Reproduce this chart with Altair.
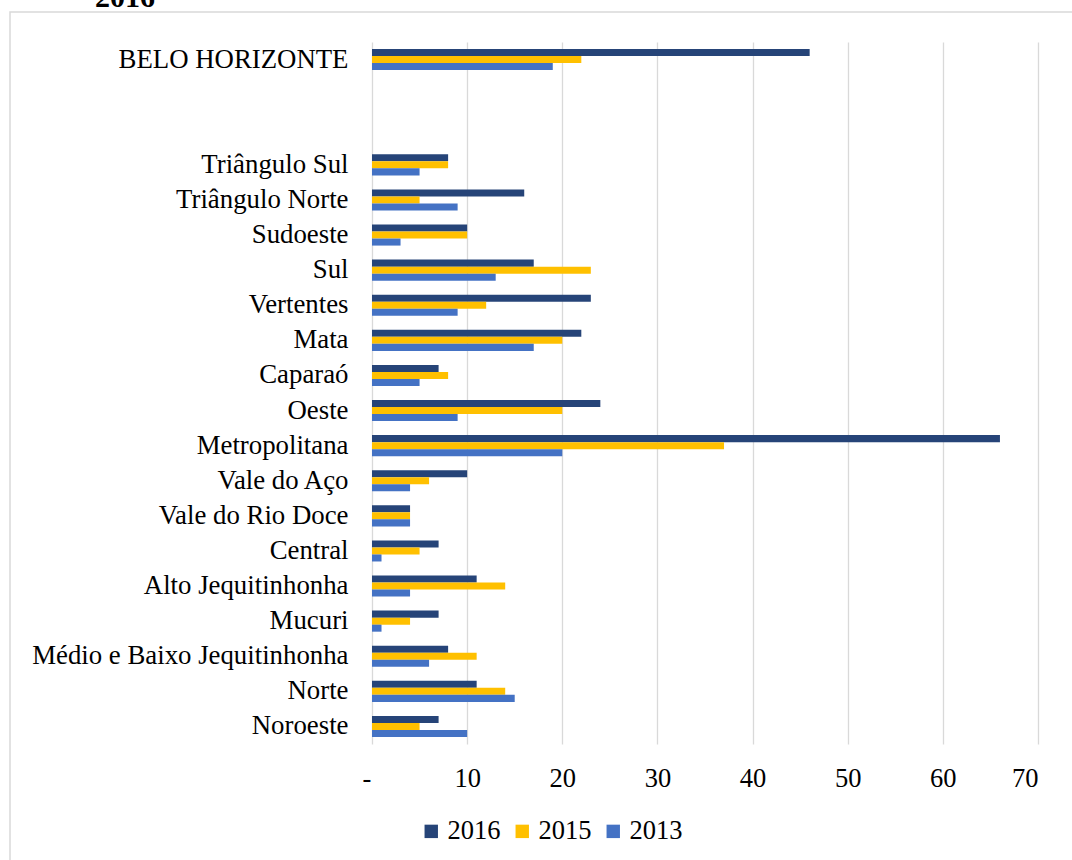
import altair as alt
import pandas as pd

categories = ["BELO HORIZONTE", " ", "  ", "Triângulo Sul", "Triângulo Norte", "Sudoeste",
              "Sul", "Vertentes", "Mata", "Caparaó", "Oeste", "Metropolitana",
              "Vale do Aço", "Vale do Rio Doce", "Central", "Alto Jequitinhonha",
              "Mucuri", "Médio e Baixo Jequitinhonha", "Norte", "Noroeste"]

regions = ["BELO HORIZONTE", "Triângulo Sul", "Triângulo Norte", "Sudoeste", "Sul",
           "Vertentes", "Mata", "Caparaó", "Oeste", "Metropolitana", "Vale do Aço",
           "Vale do Rio Doce", "Central", "Alto Jequitinhonha", "Mucuri",
           "Médio e Baixo Jequitinhonha", "Norte", "Noroeste"]
v2016 = [46, 8, 16, 10, 17, 23, 22, 7, 24, 66, 10, 4, 7, 11, 7, 8, 11, 7]
v2015 = [22, 8, 5, 10, 23, 12, 20, 8, 20, 37, 6, 4, 5, 14, 4, 11, 14, 5]
v2013 = [19, 5, 9, 3, 13, 9, 17, 5, 9, 20, 4, 4, 1, 4, 1, 6, 15, 10]

years = ["2016", "2015", "2013"]
colors = ["#264478", "#FFC000", "#4472C4"]

rows = []
for yr, vals in zip(years, [v2016, v2015, v2013]):
    for r, v in zip(regions, vals):
        rows.append({"region": r, "year": yr, "value": v})
df = pd.DataFrame(rows)

FONT = "Liberation Serif, Times New Roman, serif"

bars = alt.Chart(df).mark_bar().encode(
    x=alt.X("value:Q",
            scale=alt.Scale(domain=[0, 70], nice=False),
            axis=alt.Axis(values=[0, 10, 20, 30, 40, 50, 60, 70], title=None,
                          grid=True, gridColor="#d9d9d9", gridWidth=1.3,
                          domain=False, ticks=False, labelPadding=21,
                          labelFont=FONT, labelFontSize=26.5, labelColor="#000000",
                          labelOffset={"condition": {"test": "datum.value === 0", "value": -10},
                                       "value": 0},
                          labelExpr="datum.value === 0 ? '-' : datum.label")),
    y=alt.Y("region:N",
            scale=alt.Scale(domain=categories, paddingInner=0.4, paddingOuter=0.2),
            axis=alt.Axis(title=None, domain=False, ticks=False, labelPadding=24,
                          labelFont=FONT, labelFontSize=26.8, labelColor="#000000",
                          labelLimit=400)),
    yOffset=alt.YOffset("year:N", sort=years),
    color=alt.Color("year:N", sort=years,
                    scale=alt.Scale(domain=years, range=colors),
                    legend=alt.Legend(title=None, orient="none", legendX=46, legendY=776,
                                      direction="horizontal", symbolType="square",
                                      symbolSize=180, symbolStrokeWidth=0, padding=0,
                                      labelFont=FONT, labelFontSize=26.5,
                                      labelColor="#000000", labelOffset=3,
                                      columnPadding=8)),
)

frame = alt.Chart(pd.DataFrame({"a": [0]})).mark_rect(
    fill=None, stroke="#d9d9d9", strokeWidth=1.5
).encode(
    x=alt.value(-362), x2=alt.value(900), y=alt.value(-30), y2=alt.value(1000)
)

title_txt = alt.Chart(pd.DataFrame({"t": ["2016"]})).mark_text(
    font=FONT, fontSize=30, fontWeight="bold", align="left", baseline="alphabetic",
    color="#000000"
).encode(
    text="t:N", x=alt.value(-277), y=alt.value(-35)
)

chart = alt.layer(frame, bars, title_txt).properties(
    width=666, height=702,
    autosize=alt.AutoSizeParams(type="none"),
    padding={"left": 372, "top": 42, "right": 34, "bottom": 116},
    background="white",
).configure_view(stroke=None).configure_axis(
    labelFont=FONT
).configure_legend(labelFont=FONT)

chart.save("out.html", embed_options={"renderer": "svg", "actions": False})
